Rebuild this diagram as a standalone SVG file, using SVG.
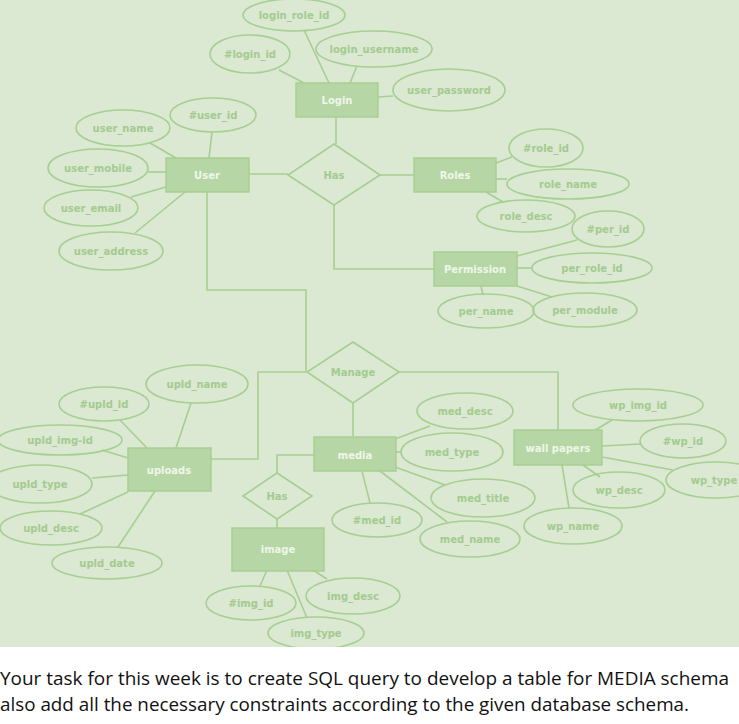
<svg xmlns="http://www.w3.org/2000/svg" width="739" height="724" viewBox="0 0 739 724">
<style>
.bg{fill:#dbe8d2}
.e ellipse{fill:none;stroke:#a6cf92;stroke-width:1.6}
.e text{font-family:"DejaVu Sans",sans-serif;font-size:10px;font-weight:bold;fill:#a3cb90;text-anchor:middle;dominant-baseline:central}
.n rect{fill:#b6d7a5;stroke:#a6cf92;stroke-width:1.5}
.n text{font-family:"DejaVu Sans",sans-serif;font-size:10px;font-weight:bold;fill:#eef6ea;text-anchor:middle;dominant-baseline:central}
.d polygon{fill:none;stroke:#a6cf92;stroke-width:1.6}
.d text{font-family:"DejaVu Sans",sans-serif;font-size:10px;font-weight:bold;fill:#a3cb90;text-anchor:middle;dominant-baseline:central}
#connectors line,#connectors polyline{stroke:#a6cf92;stroke-width:1.6;fill:none}
.cap{font-family:"Open Sans","Noto Sans",sans-serif;font-size:19px;fill:#111}
</style>
<rect class="bg" x="0" y="0" width="739" height="647"/>

<g id="connectors">
<line x1="279" y1="70" x2="304" y2="83"/>
<line x1="304" y1="30" x2="329" y2="83"/>
<line x1="357" y1="66" x2="350" y2="83"/>
<line x1="378" y1="97" x2="393" y2="96"/>
<line x1="150" y1="143" x2="176" y2="158"/>
<line x1="212" y1="132" x2="209" y2="158"/>
<line x1="148" y1="172" x2="166" y2="172"/>
<line x1="131" y1="197" x2="166" y2="187"/>
<line x1="185" y1="192" x2="135" y2="233"/>
<line x1="249" y1="174" x2="288" y2="174"/>
<line x1="336" y1="117" x2="336" y2="144"/>
<line x1="380" y1="175" x2="414" y2="175"/>
<polyline points="334,205 334,269 434,269"/>
<line x1="496" y1="163" x2="512" y2="157"/>
<line x1="496" y1="179" x2="507" y2="179"/>
<line x1="486" y1="192" x2="503" y2="202"/>
<line x1="517" y1="256" x2="577" y2="240"/>
<line x1="517" y1="268" x2="532" y2="268"/>
<line x1="481" y1="286" x2="483" y2="295"/>
<line x1="517" y1="286" x2="552" y2="297"/>
<polyline points="207,192 207,290 306,290 306,372"/>
<polyline points="306,372 258,372 258,459 211,459"/>
<polyline points="398,372 558,372 558,430"/>
<line x1="353" y1="403" x2="353" y2="436"/>
<line x1="120" y1="420" x2="147" y2="448"/>
<line x1="191" y1="403" x2="176" y2="448"/>
<line x1="102" y1="450" x2="128" y2="458"/>
<line x1="92" y1="478" x2="128" y2="475"/>
<line x1="80" y1="514" x2="128" y2="492"/>
<line x1="118" y1="547" x2="155" y2="491"/>
<polyline points="314,455 277,455 277,473"/>
<line x1="277" y1="519" x2="277" y2="528"/>
<line x1="267" y1="570" x2="260" y2="586"/>
<line x1="287" y1="570" x2="307" y2="618"/>
<line x1="313" y1="570" x2="327" y2="579"/>
<line x1="395" y1="439" x2="430" y2="426"/>
<line x1="395" y1="452" x2="402" y2="452"/>
<line x1="395" y1="467" x2="445" y2="485"/>
<line x1="380" y1="471" x2="447" y2="522"/>
<line x1="362" y1="471" x2="370" y2="503"/>
<line x1="592" y1="432" x2="612" y2="420"/>
<line x1="602" y1="446" x2="640" y2="444"/>
<line x1="602" y1="457" x2="673" y2="470"/>
<line x1="583" y1="465" x2="600" y2="477"/>
<line x1="562" y1="465" x2="569" y2="508"/>
</g>

<g id="login" class="n"><rect x="296" y="83" width="82" height="34"/><text x="337" y="100">Login</text></g>
<g id="login_role_id" class="e"><ellipse cx="294" cy="15" rx="51" ry="16"/><text x="294" y="15">login_role_id</text></g>
<g id="login_id" class="e"><ellipse cx="250" cy="54" rx="40" ry="19"/><text x="250" y="54">#login_id</text></g>
<g id="login_username" class="e"><ellipse cx="374" cy="49" rx="58" ry="18"/><text x="374" y="49">login_username</text></g>
<g id="user_password" class="e"><ellipse cx="449" cy="90" rx="56" ry="21"/><text x="449" y="90">user_password</text></g>

<g id="user" class="n"><rect x="166" y="158" width="83" height="34"/><text x="207" y="175">User</text></g>
<g id="user_id" class="e"><ellipse cx="213" cy="115" rx="43" ry="17"/><text x="213" y="115">#user_id</text></g>
<g id="user_name" class="e"><ellipse cx="123" cy="128" rx="47" ry="18"/><text x="123" y="128">user_name</text></g>
<g id="user_mobile" class="e"><ellipse cx="98" cy="168" rx="50" ry="19"/><text x="98" y="168">user_mobile</text></g>
<g id="user_email" class="e"><ellipse cx="91" cy="208" rx="47" ry="18"/><text x="91" y="208">user_email</text></g>
<g id="user_address" class="e"><ellipse cx="111" cy="251" rx="52" ry="19"/><text x="111" y="251">user_address</text></g>

<g id="has1" class="d"><polygon points="334,144 380,175 334,205 288,175"/><text x="334" y="175">Has</text></g>

<g id="roles" class="n"><rect x="414" y="158" width="82" height="34"/><text x="455" y="175">Roles</text></g>
<g id="role_id" class="e"><ellipse cx="546" cy="148" rx="37" ry="19"/><text x="546" y="148">#role_id</text></g>
<g id="role_name" class="e"><ellipse cx="568" cy="184" rx="61" ry="15"/><text x="568" y="184">role_name</text></g>
<g id="role_desc" class="e"><ellipse cx="526" cy="216" rx="49" ry="16"/><text x="526" y="216">role_desc</text></g>

<g id="permission" class="n"><rect x="434" y="252" width="83" height="34"/><text x="475" y="269">Permission</text></g>
<g id="per_id" class="e"><ellipse cx="608" cy="229" rx="36" ry="18"/><text x="608" y="229">#per_id</text></g>
<g id="per_role_id" class="e"><ellipse cx="592" cy="268" rx="60" ry="15"/><text x="592" y="268">per_role_id</text></g>
<g id="per_name" class="e"><ellipse cx="486" cy="311" rx="48" ry="17"/><text x="486" y="311">per_name</text></g>
<g id="per_module" class="e"><ellipse cx="585" cy="310" rx="52" ry="17"/><text x="585" y="310">per_module</text></g>

<g id="manage" class="d"><polygon points="353,342 399,372 353,403 307,372"/><text x="353" y="372">Manage</text></g>

<g id="uploads" class="n"><rect x="128" y="448" width="83" height="43"/><text x="169" y="470">uploads</text></g>
<g id="upld_name" class="e"><ellipse cx="197" cy="384" rx="51" ry="19"/><text x="197" y="384">upld_name</text></g>
<g id="upld_id" class="e"><ellipse cx="104" cy="404" rx="45" ry="17"/><text x="104" y="404">#upld_id</text></g>
<g id="upld_img_id" class="e"><ellipse cx="60" cy="440" rx="62" ry="15"/><text x="60" y="440">upld_img-id</text></g>
<g id="upld_type" class="e"><ellipse cx="40" cy="484" rx="52" ry="19"/><text x="40" y="484">upld_type</text></g>
<g id="upld_desc" class="e"><ellipse cx="51" cy="528" rx="51" ry="17"/><text x="51" y="528">upld_desc</text></g>
<g id="upld_date" class="e"><ellipse cx="107" cy="563" rx="55" ry="16"/><text x="107" y="563">upld_date</text></g>

<g id="media" class="n"><rect x="314" y="437" width="82" height="34"/><text x="355" y="455">media</text></g>
<g id="med_desc" class="e"><ellipse cx="465" cy="411" rx="48" ry="18"/><text x="465" y="411">med_desc</text></g>
<g id="med_type" class="e"><ellipse cx="452" cy="452" rx="51" ry="19"/><text x="452" y="452">med_type</text></g>
<g id="med_title" class="e"><ellipse cx="483" cy="498" rx="52" ry="19"/><text x="483" y="498">med_title</text></g>
<g id="med_name" class="e"><ellipse cx="470" cy="539" rx="50" ry="18"/><text x="470" y="539">med_name</text></g>
<g id="med_id" class="e"><ellipse cx="377" cy="520" rx="45" ry="17"/><text x="377" y="520">#med_id</text></g>

<g id="has2" class="d"><polygon points="277,473 312,496 277,519 243,496"/><text x="277" y="496">Has</text></g>

<g id="image" class="n"><rect x="232" y="528" width="92" height="43"/><text x="278" y="549">image</text></g>
<g id="img_id" class="e"><ellipse cx="251" cy="603" rx="45" ry="17"/><text x="251" y="603">#img_id</text></g>
<g id="img_desc" class="e"><ellipse cx="353" cy="596" rx="47" ry="18"/><text x="353" y="596">img_desc</text></g>
<g id="img_type" class="e"><ellipse cx="316" cy="633" rx="48" ry="16"/><text x="316" y="633">img_type</text></g>

<g id="wall_papers" class="n"><rect x="514" y="430" width="88" height="35"/><text x="558" y="448">wall papers</text></g>
<g id="wp_img_id" class="e"><ellipse cx="638" cy="405" rx="65" ry="16"/><text x="638" y="405">wp_img_id</text></g>
<g id="wp_id" class="e"><ellipse cx="683" cy="441" rx="43" ry="17"/><text x="683" y="441">#wp_id</text></g>
<g id="wp_type" class="e"><ellipse cx="716" cy="480" rx="50" ry="18"/><text x="714" y="480">wp_type</text></g>
<g id="wp_desc" class="e"><ellipse cx="619" cy="490" rx="46" ry="18"/><text x="619" y="490">wp_desc</text></g>
<g id="wp_name" class="e"><ellipse cx="573" cy="526" rx="49" ry="18"/><text x="573" y="526">wp_name</text></g>

<rect x="0" y="647" width="739" height="77" fill="#ffffff"/>
<text class="cap" x="0" y="685" textLength="729" lengthAdjust="spacingAndGlyphs">Your task for this week is to create SQL query to develop a table for MEDIA schema</text>
<text class="cap" x="0" y="711" textLength="689" lengthAdjust="spacingAndGlyphs">also add all the necessary constraints according to the given database schema.</text>
</svg>
